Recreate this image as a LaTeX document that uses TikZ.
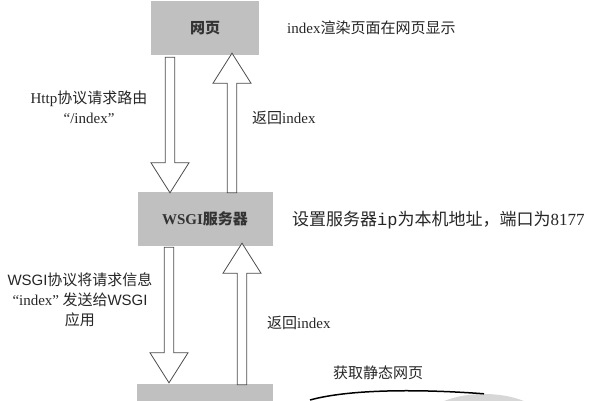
\documentclass[tikz,border=0pt]{standalone}
\usepackage{fontspec}
\setmainfont{Liberation Serif}
\setsansfont{Liberation Sans}
\setmonofont{Liberation Mono}
\newfontfamily\zh{Noto Sans CJK SC}
\usetikzlibrary{calc,shapes.geometric}
\definecolor{boxgray}{RGB}{192,192,192}
\definecolor{filegray}{RGB}{215,215,215}

\begin{document}
\begin{tikzpicture}[x=1pt, y=1pt,
    box/.style={fill=boxgray, minimum width=#1, minimum height=54pt, inner sep=0,
        text=black!80, font=\zh\bfseries\fontsize{15}{18}\selectfont},
    lbl/.style={inner sep=0, text=black!85, font=\fontsize{15}{20}\selectfont},
    blockarrow/.style={draw=black!70, fill=white, line width=0.8pt, to path={
        let \p1=($(\tikztotarget)-(\tikztostart)$), \n1={veclen(\x1,\y1)}, \n2={atan2(\y1,\x1)} in
        ($(\tikztostart)+(\n2+90:4.8)$) -- ($(\tikztostart)+(\n2:{\n1-30})+(\n2+90:4.8)$)
        -- ($(\tikztostart)+(\n2:{\n1-30})+(\n2+90:19)$) -- (\tikztotarget)
        -- ($(\tikztostart)+(\n2:{\n1-30})+(\n2-90:19)$) -- ($(\tikztostart)+(\n2:{\n1-30})+(\n2-90:4.8)$)
        -- ($(\tikztostart)+(\n2-90:4.8)$) -- cycle}}
]
    \useasboundingbox (0,0) rectangle (592,400);
    \clip (0,0) rectangle (592,400);

    \node[box=108pt] (web) at (205,372) {网页};
    \node[box=135pt] (wsgi) at (205,181) {{\rmfamily WSGI}服务器};
    \node[box=136pt] (app) at (205,-11) {};
    \node[ellipse, fill=filegray, minimum width=124pt, minimum height=60pt] (static) at (484,-24) {};

    \node[lbl, anchor=west] (render) at (287,372) {index{\zh 渲染页面在网页显示}};
    \node[lbl, align=center] (http) at (89,293) {Http{\zh 协议请求路由}\\“/index”};
    \node[lbl, anchor=west] (back1) at (252,282) {{\zh 返回}index};
    \node[lbl, anchor=west, font=\fontsize{17}{20}\selectfont] (setup) at (292,180)
        {{\zh 设置服务器}{\ttfamily ip}{\zh 为本机地址，端口为}8177};
    \node[lbl, align=center] (wsgitext) at (80,100)
        {{\sffamily WSGI}{\zh 协议将请求信息}\\“index”{\zh\ 发送给}{\sffamily WSGI}\\{\zh 应用}};
    \node[lbl, anchor=west] (back2) at (267,77) {{\zh 返回}index};
    \node[lbl, anchor=west] (fetch) at (333,27) {{\zh 获取静态网页}};

    \draw[blockarrow] ([xshift=-35pt,yshift=-2pt]web.south) to ([xshift=-35pt,yshift=-1pt]wsgi.north);
    \draw[blockarrow] ([xshift=27pt,yshift=-1pt]wsgi.north) to ([xshift=27pt,yshift=2pt]web.south);
    \draw[blockarrow] ([xshift=-36pt,yshift=-1pt]wsgi.south) to ([xshift=-36pt,yshift=1pt]app.north);
    \draw[blockarrow] ([xshift=37pt,yshift=-1pt]app.north) to ([xshift=37pt,yshift=3pt]wsgi.south);

    \coordinate (from) at (310,0);
    \draw[line width=1.5pt] (from) .. controls (350,11) and (420,11) .. (static.north);
\end{tikzpicture}
\end{document}
